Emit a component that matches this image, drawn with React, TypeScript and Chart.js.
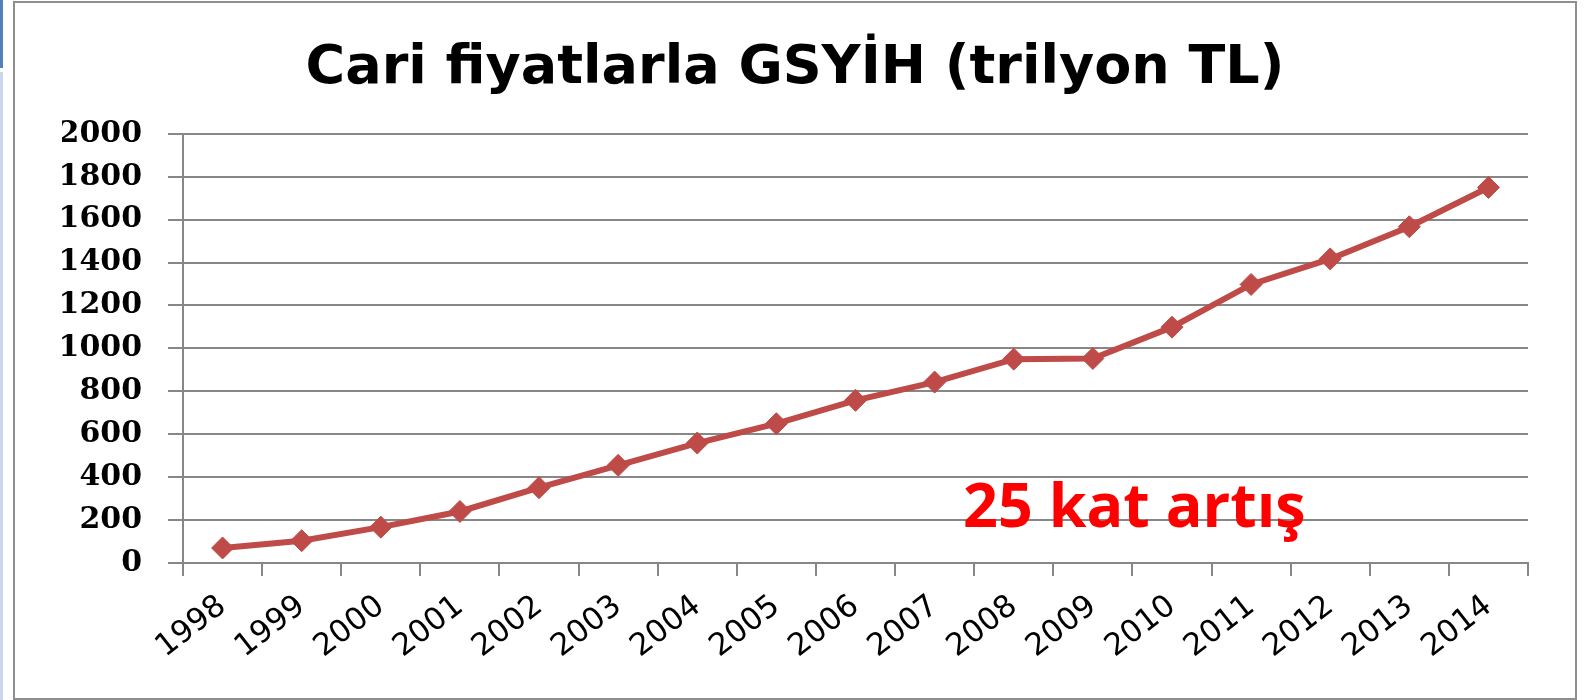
import React, { useEffect, useRef } from "react";
import { Chart, registerables } from "chart.js";

Chart.register(...registerables);

const years = ["1998", "1999", "2000", "2001", "2002", "2003", "2004", "2005", "2006", "2007", "2008", "2009", "2010", "2011", "2012", "2013", "2014"];
const gdp = [70, 104, 167, 240, 351, 455, 559, 649, 758, 843, 950, 953, 1099, 1298, 1417, 1567, 1750];
const yMin = 0;
const yMax = 2000;
const yStep = 200;
const titleText = "Cari fiyatlarla GSYİH (trilyon TL)";
const noteText = "25 kat artış";
const noteIndex = 9.36;
const noteValue = 166;

const notePlugin = {
  id: "notePlugin",
  afterDraw(chart: any) {
    const { ctx, scales } = chart;
    const px = scales.x.getPixelForValue(noteIndex);
    const py = scales.y.getPixelForValue(noteValue);
    ctx.save();
    ctx.font = 'bold 61px "Open Sans"';
    ctx.fillStyle = "#ff0000";
    ctx.textAlign = "left";
    ctx.textBaseline = "alphabetic";
    ctx.fillText(noteText, px, py);
    ctx.restore();
  },
};

export default function App() {
  const ref = useRef<HTMLCanvasElement | null>(null);

  useEffect(() => {
    if (!ref.current) return;
    const gridColor = "#878787";
    const chart = new Chart(ref.current, {
      type: "line",
      data: {
        labels: years,
        datasets: [
          {
            label: "GSYİH",
            data: gdp,
            borderColor: "#be4b48",
            backgroundColor: "#be4b48",
            borderWidth: 6,
            pointStyle: "rectRot",
            pointRadius: 11,
            pointBorderWidth: 1,
            pointBackgroundColor: "#be4b48",
            pointBorderColor: "#be4b48",
            tension: 0,
          },
        ],
      },
      options: {
        responsive: false,
        animation: false,
        devicePixelRatio: 1,
        layout: { padding: { left: 62, right: 59, top: 0, bottom: 0 } },
        plugins: {
          legend: { display: false },
          tooltip: { enabled: false },
          title: {
            display: true,
            text: titleText,
            color: "#000",
            font: { family: '"DejaVu Sans"', size: 54, weight: "bold" },
            padding: { top: 37, bottom: 32 },
          },
        },
        scales: {
          x: {
            offset: true,
            grid: {
              offset: true,
              drawOnChartArea: false,
              drawTicks: true,
              tickLength: 13,
              color: gridColor,
              lineWidth: 2,
            },
            border: { color: gridColor, width: 2 },
            ticks: {
              autoSkip: false,
              minRotation: 38,
              maxRotation: 38,
              padding: 12,
              color: "#000",
              font: { family: '"DejaVu Sans"', size: 31 },
            },
            afterFit(s: any) {
              s.height = 137;
            },
          },
          y: {
            min: yMin,
            max: yMax,
            ticks: {
              stepSize: yStep,
              padding: 26,
              color: "#000",
              font: { family: '"DejaVu Serif"', size: 30, weight: "bold" },
              callback: (v: any) => String(v),
            },
            grid: {
              color: gridColor,
              lineWidth: 2,
              tickLength: 15,
              drawTicks: true,
            },
            border: { color: gridColor, width: 2 },
            afterFit(s: any) {
              s.width = 121;
            },
          },
        },
      },
      plugins: [notePlugin],
    } as any);
    return () => chart.destroy();
  }, []);

  return (
    <div style={{ position: "fixed", left: 0, top: 0, width: 1587, height: 700, background: "#fff", overflow: "hidden" }}>
      <div style={{ position: "absolute", left: 0, top: 0, width: 3, height: 68, background: "#4f81bd" }} />
      <div style={{ position: "absolute", left: 0, top: 72, width: 3, height: 628, background: "#c9d6ec" }} />
      <canvas ref={ref} width={1587} height={700} style={{ position: "absolute", left: 0, top: 0, display: "block" }} />
      <div
        style={{
          position: "absolute",
          left: 13,
          top: 1,
          width: 1560,
          height: 695,
          border: "2px solid #8e8e8e",
          pointerEvents: "none",
        }}
      />
    </div>
  );
}
